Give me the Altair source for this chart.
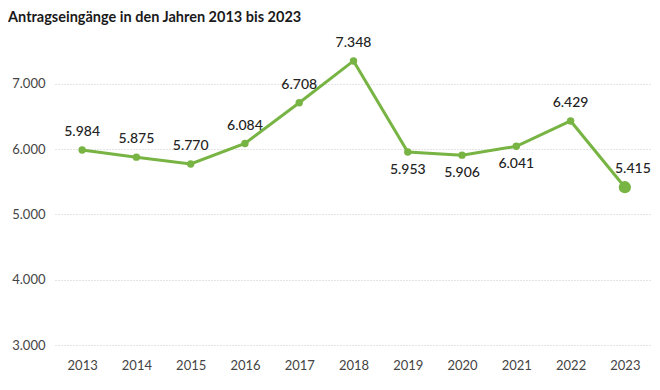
import altair as alt
import pandas as pd

years = ["2013", "2014", "2015", "2016", "2017", "2018", "2019", "2020", "2021", "2022", "2023"]
values = [5984, 5875, 5770, 6084, 6708, 7348, 5953, 5906, 6041, 6429, 5415]
y_ticks = [3000, 4000, 5000, 6000, 7000]
labels_above = ["2013", "2014", "2015", "2016", "2017", "2018", "2022"]
labels_below = ["2019", "2020", "2021"]
labels_right = ["2023"]

df = pd.DataFrame({"year": years, "value": values})
df["label"] = [f"{v:,}".replace(",", ".") for v in values]

GREEN = "#78b443"
FONT = "Lato"

x = alt.X("year:N", sort=years, title=None,
          scale=alt.Scale(paddingOuter=0.5, paddingInner=1),
          axis=alt.Axis(labelAngle=0, domain=False, ticks=False, grid=False,
                        labelPadding=14, labelFontSize=13, labelColor="#444",
                        labelFont=FONT))
y = alt.Y("value:Q", title=None,
          scale=alt.Scale(domain=[3000, 7500], nice=False, zero=False),
          axis=alt.Axis(values=y_ticks, domain=False, ticks=False,
                        labelExpr="replace(format(datum.value, ','), ',', '.')",
                        labelPadding=10, labelFontSize=13, labelColor="#444",
                        labelFont=FONT, gridColor="#c8c8c8", gridDash=[1, 2],
                        gridWidth=1))

base = alt.Chart(df).encode(x=x, y=y)

line = base.mark_line(color=GREEN, strokeWidth=3)
pts = base.mark_circle(color=GREEN, opacity=1, size=55).transform_filter(
    alt.FieldOneOfPredicate(field="year", oneOf=years[:-1]))
last = base.mark_circle(color=GREEN, opacity=1, size=150).transform_filter(
    alt.FieldOneOfPredicate(field="year", oneOf=labels_right))

txt_style = dict(fontSize=14, font=FONT, fontWeight=500, color="#222", baseline="middle")
above = base.mark_text(dy=-18, **txt_style).encode(text="label:N").transform_filter(
    alt.FieldOneOfPredicate(field="year", oneOf=labels_above))
below = base.mark_text(dy=18, **txt_style).encode(text="label:N").transform_filter(
    alt.FieldOneOfPredicate(field="year", oneOf=labels_below))
right = base.mark_text(dy=-18, dx=8, **txt_style).encode(text="label:N").transform_filter(
    alt.FieldOneOfPredicate(field="year", oneOf=labels_right))

chart = alt.layer(line, pts, last, above, below, right).properties(
    width=597, height=294,
    autosize=alt.AutoSizeParams(type="none"),
    padding={"left": 47, "top": 43, "right": 0, "bottom": 35},
    title=alt.TitleParams("Antragseingänge in den Jahren 2013 bis 2023",
                          anchor="start", frame="group", dx=-47, offset=10,
                          fontSize=14.5, fontWeight="bold", font=FONT, color="#1a1a1a"),
).configure_view(stroke=None)

chart.save("out.html", embed_options={"renderer": "svg", "actions": False})
